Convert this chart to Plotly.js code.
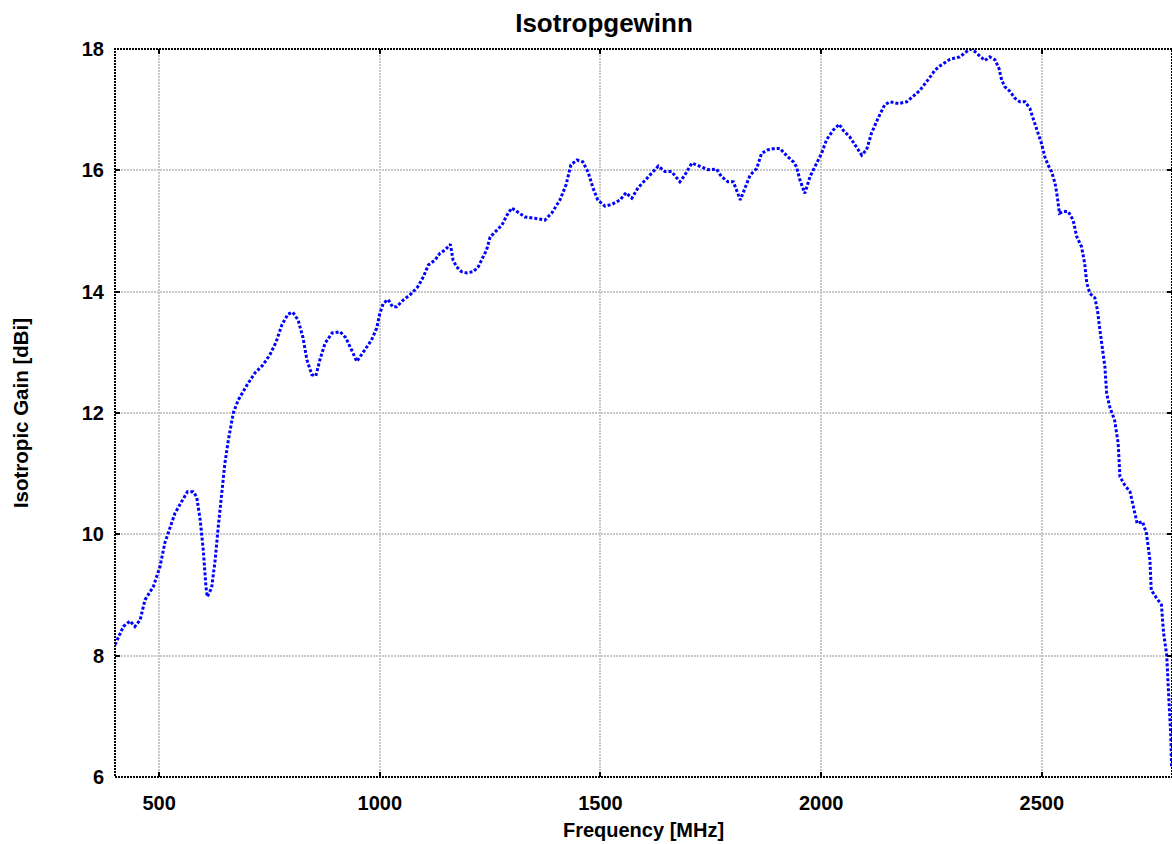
<!DOCTYPE html>
<html>
<head>
<meta charset="utf-8">
<script src="https://cdn.plot.ly/plotly-3.0.1.min.js"></script>
<style>html,body{margin:0;padding:0;background:#fff;overflow:hidden}#chart{width:1172px;height:844px}</style>
</head>
<body>
<div id="chart"></div>
<script>
const chartTitle = "Isotropgewinn";
const xAxisTitle = "Frequency [MHz]";
const yAxisTitle = "Isotropic Gain [dBi]";
const xTicks = [500, 1000, 1500, 2000, 2500];
const yTicks = [6, 8, 10, 12, 14, 16, 18];

const frequency = [
  400, 419, 434, 445, 457, 468, 487, 502, 513, 521, 536, 551, 564, 577, 585, 593, 600, 606, 609, 619,
  627, 634, 642, 649, 657, 668, 679, 699, 717, 735, 751, 765, 778, 792, 803, 815, 826, 835, 846, 855,
  864, 876, 892, 910, 923, 932, 948, 966, 981, 993, 1000, 1008, 1019, 1029, 1038, 1053, 1072, 1087, 1099, 1110,
  1125, 1136, 1148, 1160, 1166, 1174, 1185, 1197, 1212, 1223, 1234, 1242, 1250, 1261, 1277, 1288, 1299, 1313, 1329, 1351,
  1374, 1390, 1408, 1422, 1433, 1447, 1460, 1472, 1483, 1494, 1510, 1526, 1544, 1558, 1571, 1585, 1601, 1612, 1631, 1646,
  1661, 1680, 1691, 1707, 1725, 1744, 1763, 1774, 1789, 1801, 1808, 1817, 1827, 1839, 1854, 1865, 1880, 1895, 1907, 1922,
  1937, 1944, 1952, 1963, 1975, 1990, 2001, 2012, 2027, 2041, 2050, 2065, 2080, 2092, 2103, 2114, 2129, 2144, 2156, 2175,
  2194, 2206, 2224, 2242, 2258, 2269, 2280, 2292, 2314, 2326, 2337, 2348, 2360, 2371, 2382, 2394, 2403, 2409, 2416, 2428,
  2439, 2450, 2462, 2473, 2480, 2489, 2499, 2507, 2514, 2522, 2530, 2535, 2540, 2549, 2560, 2571, 2579, 2590, 2597, 2602,
  2609, 2620, 2626, 2632, 2643, 2647, 2654, 2665, 2673, 2677, 2688, 2700, 2707, 2716, 2728, 2737, 2745, 2748, 2760, 2771,
  2776, 2783, 2788, 2792, 2794
];
const gain = [
  8.18, 8.48, 8.57, 8.48, 8.59, 8.92, 9.14, 9.47, 9.86, 10.02, 10.35, 10.54, 10.70, 10.70, 10.62, 10.24, 9.74, 9.14, 8.97, 9.12,
  9.58, 10.13, 10.73, 11.17, 11.56, 12.00, 12.21, 12.46, 12.66, 12.79, 12.96, 13.17, 13.45, 13.63, 13.66, 13.53, 13.24, 12.87, 12.63, 12.61,
  12.87, 13.15, 13.32, 13.34, 13.24, 13.09, 12.85, 13.04, 13.20, 13.40, 13.64, 13.81, 13.87, 13.75, 13.75, 13.86, 13.97, 14.09, 14.25, 14.44,
  14.52, 14.63, 14.69, 14.78, 14.52, 14.41, 14.33, 14.31, 14.33, 14.41, 14.58, 14.69, 14.90, 14.98, 15.10, 15.26, 15.38, 15.31, 15.23, 15.21,
  15.18, 15.30, 15.51, 15.76, 16.09, 16.17, 16.14, 15.97, 15.71, 15.51, 15.41, 15.44, 15.51, 15.63, 15.54, 15.71, 15.84, 15.92, 16.07, 15.98,
  15.98, 15.81, 15.92, 16.12, 16.06, 16.01, 16.02, 15.90, 15.81, 15.81, 15.68, 15.51, 15.70, 15.92, 16.03, 16.28, 16.34, 16.36, 16.36, 16.24,
  16.14, 16.06, 15.84, 15.62, 15.90, 16.12, 16.28, 16.50, 16.66, 16.76, 16.66, 16.55, 16.39, 16.25, 16.34, 16.61, 16.86, 17.08, 17.13, 17.10,
  17.13, 17.21, 17.32, 17.49, 17.65, 17.72, 17.77, 17.83, 17.87, 17.93, 18.00, 17.96, 17.88, 17.81, 17.87, 17.82, 17.68, 17.49, 17.38, 17.30,
  17.19, 17.13, 17.13, 17.02, 16.86, 16.66, 16.45, 16.22, 16.09, 15.98, 15.79, 15.57, 15.29, 15.32, 15.32, 15.18, 14.91, 14.74, 14.47, 14.14,
  13.97, 13.90, 13.70, 13.35, 12.76, 12.32, 12.10, 11.88, 11.50, 10.95, 10.81, 10.70, 10.46, 10.18, 10.21, 10.02, 9.58, 9.08, 8.95, 8.84,
  8.37, 8.01, 7.27, 6.72, 6.17
];

const fontFamily = "'Liberation Sans', Arial, sans-serif";

const trace = {
  x: frequency,
  y: gain,
  type: "scatter",
  mode: "lines",
  line: {color: "#0000ff", width: 3, dash: "3px,2px"},
  hoverinfo: "x+y"
};

const axisCommon = {
  showgrid: true,
  gridcolor: "#c8c8c8",
  gridwidth: 1.5,
  griddash: "2px,1px",
  zeroline: false,
  showline: false,
  ticks: "inside",
  ticklen: 5,
  tickwidth: 1.5,
  tickcolor: "#000",
  mirror: "ticks",
  tickfont: {family: fontFamily, size: 20, color: "#000", weight: "bold"}
};

const layout = {
  width: 1172,
  height: 844,
  margin: {l: 115, r: 0, t: 49, b: 67, pad: 0},
  paper_bgcolor: "#fff",
  plot_bgcolor: "#fff",
  showlegend: false,
  title: {
    text: chartTitle,
    font: {family: fontFamily, size: 26, color: "#000", weight: "bold"},
    x: 604 / 1172,
    xref: "container",
    xanchor: "center",
    y: 1 - 23 / 844,
    yref: "container",
    yanchor: "middle"
  },
  xaxis: Object.assign({}, axisCommon, {
    range: [400, 2795],
    tickvals: xTicks,
    ticktext: xTicks.map(String),
    ticklabelstandoff: 12,
    title: {text: xAxisTitle, standoff: 9, font: {family: fontFamily, size: 20, color: "#000", weight: "bold"}}
  }),
  yaxis: Object.assign({}, axisCommon, {
    range: [6, 18],
    tickvals: yTicks,
    ticktext: yTicks.map(String),
    ticklabelstandoff: 10,
    title: {text: yAxisTitle, standoff: 47, font: {family: fontFamily, size: 20.5, color: "#000", weight: "bold"}}
  }),
  shapes: [{
    type: "rect", xref: "paper", yref: "paper", x0: 0, x1: 1, y0: 0, y1: 1,
    line: {color: "#000", width: 2, dash: "2px,1px"}, layer: "above"
  }]
};

Plotly.newPlot("chart", [trace], layout, {displayModeBar: false, staticPlot: false});
</script>
</body>
</html>
